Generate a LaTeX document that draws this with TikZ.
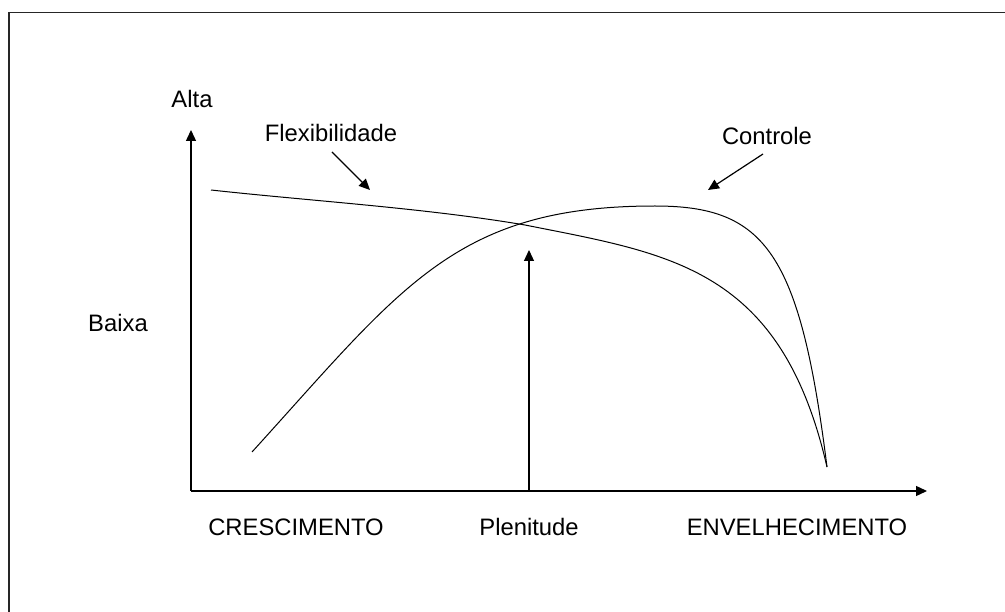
\documentclass[tikz,border=0pt]{standalone}
\usepackage{fontspec}
\setmainfont{Liberation Sans}
\usetikzlibrary{arrows.meta}
\begin{document}
\begin{tikzpicture}[x=1pt,y=-1pt,
  lbl/.style={font=\fontsize{23.8}{27}\selectfont, inner sep=0pt},
  axis/.style={line width=1.4pt, -{Triangle[length=11pt,width=10pt]}},
  pointer/.style={line width=1.2pt, -{Triangle[length=11pt,width=10pt]}},
  curve/.style={line width=1pt}]
\useasboundingbox (0,0) rectangle (1005,612);
% frame
\draw[line width=1.5pt, black!85] (9,612) -- (9,12.5) -- (1005,12.5);
% axes
\coordinate (O) at (191,491);
\coordinate (ytip) at (191,130);
\coordinate (xtip) at (927,491);
\draw[axis] (O) -- (ytip);
\draw[axis] (O) -- (xtip);
% labels
\node[lbl] (alta) at (192,99) {Alta};
\node[lbl] (baixa) at (118,323) {Baixa};
\node[lbl] (flex) at (331,133) {Flexibilidade};
\node[lbl] (ctrl) at (767,136) {Controle};
\node[lbl] (cresc) at (296,527) {CRESCIMENTO};
\node[lbl] (plen) at (529,527) {Plenitude};
\node[lbl] (envel) at (797,527) {ENVELHECIMENTO};
% pointers
\coordinate (flextip) at (370,190);
\coordinate (ctrltip) at (708,190);
\coordinate (plenbase) at (529,490);
\coordinate (plentip) at (529,250);
\draw[pointer] (332,152) -- (flextip);
\draw[pointer] (763,154) -- (ctrltip);
\draw[pointer] (plenbase) -- (plentip);
% curves
\coordinate (cstart) at (252,452);
\coordinate (cpeak) at (655,206);
\coordinate (fstart) at (211,190);
\coordinate (cross) at (525,225);
\coordinate (end) at (827,467);
\draw[curve] (cstart) .. controls (402,287) and (455,206) .. (cpeak)
                      .. controls (765,206) and (800,252) .. (end);
\draw[curve] (fstart) .. controls (311,201) and (425,208) .. (cross)
                      .. controls (670,254) and (781,267) .. (end);
\end{tikzpicture}
\end{document}
